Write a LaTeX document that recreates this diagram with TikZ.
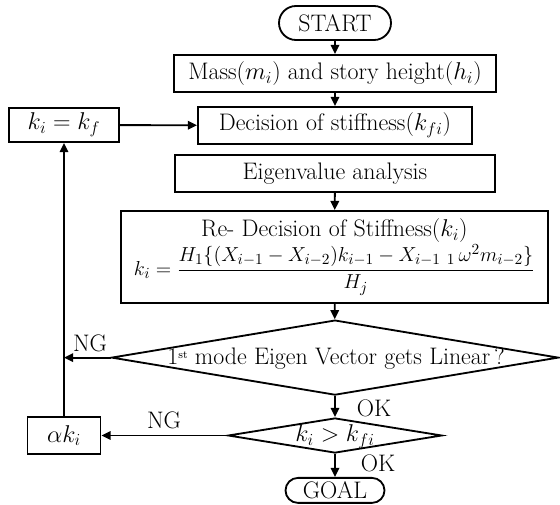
\documentclass[tikz,border=0pt]{standalone}
\usepackage{tikz}
\usetikzlibrary{arrows.meta,shapes.geometric,shapes.misc}

\begin{document}
\begin{tikzpicture}[
    every node/.style={font=\fontsize{17}{20}\selectfont},
    % START / GOAL: rounded ends
    term/.style={rounded rectangle, draw, line width=1.3pt, inner sep=0pt},
    % process boxes
    proc/.style={rectangle, draw, line width=1.3pt, inner sep=2pt},
    % decision diamonds (text is set on top)
    cond/.style={diamond, draw, line width=1.3pt, inner sep=0pt},
    % arrow style
    arr/.style={-{Triangle[length=6.5pt,width=6pt]}, line width=1.3pt},
]
\useasboundingbox (0,0) rectangle (14,12.6);

% ============================================================
% Main column
% ============================================================
\node[term, minimum width=2.8cm, minimum height=0.85cm] (start) at (8.375, 12.025) {START};
\node[proc, minimum width=8.05cm, minimum height=0.925cm] (mass) at (8.375, 10.7625)
    {Mass($m_i$) and story height($h_i$)};
\node[proc, minimum width=6.85cm, minimum height=0.925cm] (stiff) at (8.375, 9.4625)
    {Decision of stiffness($k_{fi}$)};
\node[proc, minimum width=8.0cm, minimum height=0.925cm] (eigen) at (8.375, 8.2625)
    {Eigenvalue analysis};
\node[proc, minimum width=10.675cm, minimum height=2.3cm, align=center] (redec) at (8.36, 6.175)
    {Re- Decision of Stiffness($k_i$)\\
     \fontsize{15.6}{18}\selectfont
     $\displaystyle k_i=\frac{H_1\bigl\{(X_{i-1}-X_{i-2})k_{i-1}-X_{i-1\ 1}\,\omega^2 m_{i-2}\bigr\}}{H_j}$};

\node[cond, minimum width=11.175cm, minimum height=1.875cm] (lin) at (8.375, 3.66) {};
\node (lintxt) at (8.4, 3.64)
    {1\raisebox{0.55ex}{\fontsize{8}{9}\selectfont st} mode Eigen Vector gets Linear\,?};
\node[cond, minimum width=5.35cm, minimum height=0.875cm] (kchk) at (8.375, 1.7125) {};
\node (kchktxt) at (8.375, 1.69) {$k_i>k_{fi}$};

\node[term, minimum width=2.475cm, minimum height=0.625cm] (goal) at (8.375, 0.34) {GOAL};

% ============================================================
% Left column (feedback)
% ============================================================
\node[proc, minimum width=2.75cm, minimum height=0.85cm] (kset) at (1.6, 9.475) {$k_i=k_f$};
\node[proc, minimum width=1.825cm, minimum height=0.925cm] (akbox) at (1.6, 1.7125) {$\alpha k_i$};

% Edges
\draw[arr] (start) -- (mass);
\draw[arr] (mass) -- (stiff);
\draw[arr] (eigen) -- (redec);
\draw[arr] (redec) -- (lin);
\draw[arr] (lin.south) -- (kchk.north);
\draw[arr] (kchk.south) -- (goal);
\draw[arr] (kset) -- (stiff);
\draw[arr] (akbox) -- (kset);
\draw[arr] (lin.west) -- (lin.west -| kset.south);
\draw[arr] (kchk.west) -- (akbox);

% Branch labels
\node (ng1) at (2.25, 4.025) {NG};
\node (ng2) at (4.1, 2.1) {NG};
\node (ok1) at (9.35, 2.4) {OK};
\node (ok2) at (9.45, 1.025) {OK};

\end{tikzpicture}
\end{document}
